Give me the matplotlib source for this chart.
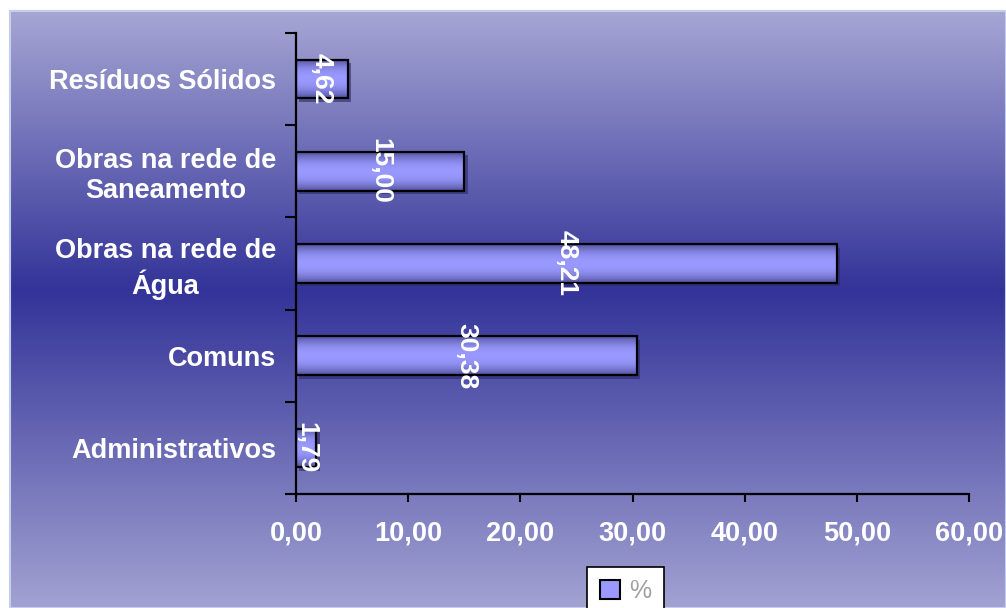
import numpy as np
import matplotlib
matplotlib.use("Agg")
import matplotlib.pyplot as plt
from matplotlib.patches import Rectangle
from matplotlib.transforms import ScaledTranslation

categories = ["Administrativos", "Comuns", "Obras na rede de\nÁgua",
              "Obras na rede de\nSaneamento", "Resíduos Sólidos"]
values = [1.79, 30.38, 48.21, 15.00, 4.62]
value_labels = ["1,79", "30,38", "48,21", "15,00", "4,62"]
xticks = [0, 10, 20, 30, 40, 50, 60]
xtick_labels = ["0,00", "10,00", "20,00", "30,00", "40,00", "50,00", "60,00"]
legend_label = "%"

plt.rcParams['font.family'] = ['Liberation Sans', 'DejaVu Sans']

W, H = 1006, 608
fig = plt.figure(figsize=(W / 100, H / 100), dpi=100, facecolor="white")

# background panel with vertical gradient
bg = fig.add_axes([10 / W, 0, 1 - 10 / W, 1 - 11 / H], zorder=-5)
ys = np.linspace(0, 1, 400)  # 0 = top
top_c = np.array([166, 166, 212]) / 255
mid_c = np.array([51, 51, 153]) / 255
bot_c = np.array([162, 162, 210]) / 255
mid = (290 - 11) / (608 - 11)
grad = np.zeros((400, 1, 3))
for i, t in enumerate(ys):
    if t <= mid:
        f = t / mid
        grad[i, 0] = top_c + (mid_c - top_c) * f
    else:
        f = (t - mid) / (1 - mid)
        grad[i, 0] = mid_c + (bot_c - mid_c) * f
bg.imshow(grad, aspect="auto", extent=[0, 1, 0, 1], interpolation="bilinear")
bg.set_xlim(0, 1)
bg.set_ylim(0, 1)
bg.axis("off")
bg.add_patch(Rectangle((0, 0), 1, 1.0, transform=bg.transAxes, fill=False,
                       edgecolor="#c4d0ea", lw=1.5, clip_on=False))

ax = fig.add_axes([296 / W, 1 - 494 / H, (969 - 296) / W, (494 - 33) / H])
ax.set_facecolor("none")

n = len(categories)
pos = np.arange(n)
h = 0.42

# bar gradient profile (across bar height)
tt = np.linspace(0, 1, 60)
prof = 1 - np.abs(2 * tt - 1) ** 2.2
dark = np.array([80, 80, 155]) / 255
light = np.array([153, 153, 255]) / 255
bar_grad = (dark[None, :] + (light - dark)[None, :] * prof[:, None])[:, None, :]

shadow_tr = ax.transData + ScaledTranslation(2.5 / 72, -2.5 / 72, fig.dpi_scale_trans)
for p, v, lab in zip(pos, values, value_labels):
    ax.add_patch(Rectangle((0, p - h / 2), v, h, transform=shadow_tr,
                           facecolor="#2a2a66", edgecolor="none", alpha=0.6, zorder=1))
    ax.imshow(bar_grad, aspect="auto", extent=[0, v, p - h / 2, p + h / 2],
              interpolation="bilinear", zorder=2)
    rect = Rectangle((0, p - h / 2), v, h, facecolor="none", edgecolor="black",
                     lw=1.6, zorder=3)
    ax.add_patch(rect)
    ax.text(v / 2, p, lab, rotation=-90, ha="center", va="center",
            color="white", fontsize=19, fontweight="bold", zorder=4)

ax.set_xlim(0, 60)
ax.set_ylim(-0.5, n - 0.5)
ax.set_xticks(xticks)
ax.set_xticklabels(xtick_labels)
ax.set_yticks(pos)
ax.set_yticklabels(categories, multialignment="center", linespacing=1.2)
ax.set_yticks(np.arange(-0.5, n, 1.0), minor=True)
ax.tick_params(axis="y", which="major", length=0, pad=14.4, labelcolor="white",
               labelsize=19.5)
ax.tick_params(axis="y", which="minor", length=8, width=1.5, color="black",
               direction="out")
ax.tick_params(axis="x", which="major", length=6, width=1.5, color="black",
               direction="out", pad=13, labelcolor="white", labelsize=19.5)
for lbl in ax.get_xticklabels() + ax.get_yticklabels():
    lbl.set_fontweight("bold")
for s in ["top", "right"]:
    ax.spines[s].set_visible(False)
for s in ["left", "bottom"]:
    ax.spines[s].set_linewidth(1.6)
    ax.spines[s].set_color("black")

handle = Rectangle((0, 0), 1, 1, facecolor="#9999ff", edgecolor="black", lw=1.5)
leg = fig.legend([handle], [legend_label], loc="upper left",
                 bbox_to_anchor=(587 / W, 1 - 567 / H), frameon=True,
                 fancybox=False, framealpha=1, edgecolor="black",
                 fontsize=18, handlelength=0.8, handleheight=0.8,
                 handletextpad=0.4, borderpad=0.5, borderaxespad=0)
leg.get_frame().set_linewidth(1.2)
for t in leg.get_texts():
    t.set_color("#a0a0a0")

fig.savefig("out.png", dpi=100, facecolor="white")
